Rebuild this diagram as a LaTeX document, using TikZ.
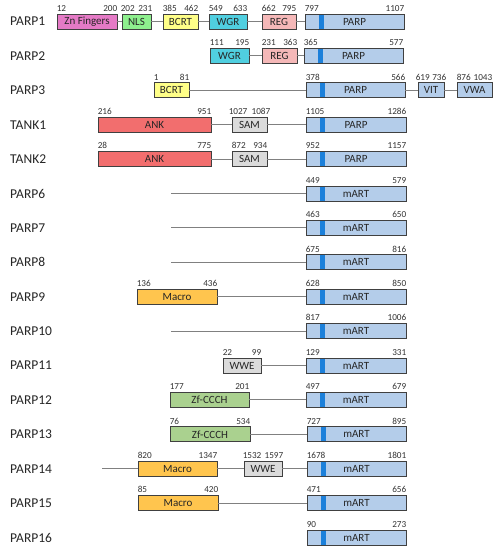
\documentclass[tikz,border=0pt]{standalone}
\usepackage{fontspec}
\setmainfont{Carlito}
\definecolor{cZn}{HTML}{E57AC6}
\definecolor{cNLS}{HTML}{8EF08E}
\definecolor{cBCRT}{HTML}{FFFF88}
\definecolor{cWGR}{HTML}{50CFE0}
\definecolor{cREG}{HTML}{F5B8B8}
\definecolor{cPARP}{HTML}{B4CDEA}
\definecolor{cStripe}{HTML}{1C80DA}
\definecolor{cANK}{HTML}{F26E6E}
\definecolor{cSAM}{HTML}{DBDBDB}
\definecolor{cMacro}{HTML}{FFC54E}
\definecolor{cZf}{HTML}{AAD18F}
\definecolor{cBorder}{HTML}{404040}
\definecolor{cLine}{HTML}{808080}
\tikzset{
  dombox/.style={draw=cBorder, line width=0.9pt, inner sep=0pt, minimum height=15pt,
    font=\fontsize{11}{12}\selectfont, text=black!85},
  zn/.style={dombox, fill=cZn},
  nls/.style={dombox, fill=cNLS},
  bcrt/.style={dombox, fill=cBCRT},
  wgr/.style={dombox, fill=cWGR},
  reg/.style={dombox, fill=cREG},
  plain/.style={dombox, fill=cPARP},
  cat/.style={dombox, fill=cPARP, path picture={
      \fill[cStripe] ([xshift=14pt]path picture bounding box.south west) rectangle ([xshift=19pt]path picture bounding box.north west);}},
  ank/.style={dombox, fill=cANK},
  sam/.style={dombox, fill=cSAM},
  macro/.style={dombox, fill=cMacro},
  zf/.style={dombox, fill=cZf},
  num/.style={inner sep=0pt, yshift=2pt, font=\fontsize{9.2}{10}\selectfont, text=black!80},
  rowlabel/.style={anchor=west, inner sep=0pt, font=\fontsize{13.5}{15}\selectfont, text=black!85},
  conn/.style={draw=cLine, line width=1pt}
}
\newcommand\dom[6]{\node[#2,minimum width={(#4-#3)*1pt}] (#1) at ({(#3+#4)/2},#5) {#6};}
\newcommand\nums[4][0]{\node[num,anchor=south west,xshift={-#1*1pt}] (#2a) at (#2.north west) {#3};
  \node[num,anchor=south east,xshift={#1*1pt}] (#2b) at (#2.north east) {#4};}
\begin{document}
\begin{tikzpicture}[x=1pt,y=-1pt]
\useasboundingbox (0,0) rectangle (496,550);
% row labels
\foreach \n/\t [count=\i from 0] in {l1/PARP1,l2/PARP2,l3/PARP3,l4/TANK1,l5/TANK2,l6/PARP6,l7/PARP7,l8/PARP8,l9/PARP9,l10/PARP10,l11/PARP11,l12/PARP12,l13/PARP13,l14/PARP14,l15/PARP15,l16/PARP16}
  \node[rowlabel] (\n) at (10,{21.5+34.4*\i}) {\t};
% PARP1
\dom{a1}{zn}{57}{117}{21.5}{Zn Fingers}\nums{a1}{12}{200}
\dom{a2}{nls}{122}{151}{21.5}{NLS}\nums[1]{a2}{202}{231}
\dom{a3}{bcrt}{163}{198}{21.5}{BCRT}\nums{a3}{385}{462}
\dom{a4}{wgr}{209}{247}{21.5}{WGR}\nums{a4}{549}{633}
\dom{a5}{reg}{262}{296}{21.5}{REG}\nums{a5}{662}{795}
\dom{a6}{cat}{305}{404}{21.5}{PARP}\nums{a6}{797}{1107}
\draw[conn] (a1) -- (a2); \draw[conn] (a2) -- (a3); \draw[conn] (a3) -- (a4);
\draw[conn] (a4) -- (a5); \draw[conn] (a5) -- (a6);
% PARP2
\dom{b1}{wgr}{210}{249}{55.9}{WGR}\nums{b1}{111}{195}
\dom{b2}{reg}{262}{297}{55.9}{REG}\nums{b2}{231}{363}
\dom{b3}{cat}{304}{403}{55.9}{PARP}\nums{b3}{365}{577}
\draw[conn] (b1) -- (b2); \draw[conn] (b2) -- (b3);
% PARP3
\dom{c1}{bcrt}{154}{189}{90.3}{BCRT}\nums{c1}{1}{81}
\dom{c2}{cat}{306}{405}{90.3}{PARP}\nums{c2}{378}{566}
\dom{c3}{plain}{418}{444}{90.3}{VIT}\nums[2]{c3}{619}{736}
\dom{c4}{plain}{457}{492}{90.3}{VWA}\nums{c4}{876}{1043}
\draw[conn] (c1) -- (c2); \draw[conn] (c2) -- (c3); \draw[conn] (c3) -- (c4);
% TANK1
\dom{d1}{ank}{98}{211}{124.7}{ANK}\nums{d1}{216}{951}
\dom{d2}{sam}{232}{267}{124.7}{SAM}\nums[3]{d2}{1027}{1087}
\dom{d3}{cat}{306}{406}{124.7}{PARP}\nums{d3}{1105}{1286}
\draw[conn] (d1) -- (d2); \draw[conn] (d2) -- (d3);
% TANK2
\dom{e1}{ank}{98}{211}{159.1}{ANK}\nums{e1}{28}{775}
\dom{e2}{sam}{232}{267}{159.1}{SAM}\nums{e2}{872}{934}
\dom{e3}{cat}{306}{406}{159.1}{PARP}\nums{e3}{952}{1157}
\draw[conn] (e1) -- (e2); \draw[conn] (e2) -- (e3);
% PARP6
\coordinate (f0) at (171,193.5);
\dom{f1}{cat}{306}{406}{193.5}{mART}\nums{f1}{449}{579}
\draw[conn] (f0) -- (f1);
% PARP7
\coordinate (g0) at (171,227.9);
\dom{g1}{cat}{306}{406}{227.9}{mART}\nums{g1}{463}{650}
\draw[conn] (g0) -- (g1);
% PARP8
\coordinate (h0) at (171,262.3);
\dom{h1}{cat}{306}{406}{262.3}{mART}\nums{h1}{675}{816}
\draw[conn] (h0) -- (h1);
% PARP9
\dom{i1}{macro}{137}{217}{296.7}{Macro}\nums{i1}{136}{436}
\dom{i2}{cat}{306}{406}{296.7}{mART}\nums{i2}{628}{850}
\draw[conn] (i1) -- (i2);
% PARP10
\coordinate (j0) at (171,331.1);
\dom{j1}{cat}{306}{406}{331.1}{mART}\nums{j1}{817}{1006}
\draw[conn] (j0) -- (j1);
% PARP11
\dom{k1}{sam}{223}{261}{365.5}{WWE}\nums{k1}{22}{99}
\dom{k2}{cat}{306}{406}{365.5}{mART}\nums{k2}{129}{331}
\draw[conn] (k1) -- (k2);
% PARP12
\dom{m1}{zf}{170}{249}{399.9}{Zf-CCCH}\nums{m1}{177}{201}
\dom{m2}{cat}{306}{406}{399.9}{mART}\nums{m2}{497}{679}
\draw[conn] (m1) -- (m2);
% PARP13
\dom{n1}{zf}{170}{250}{434.3}{Zf-CCCH}\nums{n1}{76}{534}
\dom{n2}{cat}{307}{406}{434.3}{mART}\nums{n2}{727}{895}
\draw[conn] (n1) -- (n2);
% PARP14
\coordinate (o0) at (102,468.7);
\dom{o1}{macro}{138}{217}{468.7}{Macro}\nums{o1}{820}{1347}
\dom{o2}{sam}{244}{282}{468.7}{WWE}\nums[1]{o2}{1532}{1597}
\dom{o3}{cat}{307}{406}{468.7}{mART}\nums{o3}{1678}{1801}
\draw[conn] (o0) -- (o1); \draw[conn] (o1) -- (o2); \draw[conn] (o2) -- (o3);
% PARP15
\dom{p1}{macro}{138}{218}{503.1}{Macro}\nums{p1}{85}{420}
\dom{p2}{cat}{307}{406}{503.1}{mART}\nums{p2}{471}{656}
\draw[conn] (p1) -- (p2);
% PARP16
\dom{q1}{cat}{307}{406}{537.5}{mART}\nums{q1}{90}{273}
\end{tikzpicture}
\end{document}
